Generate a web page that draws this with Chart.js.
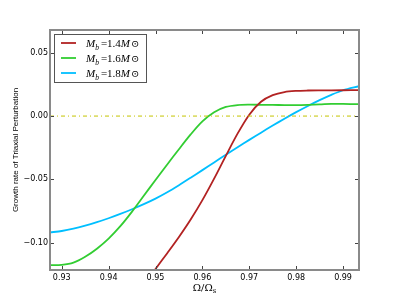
<!DOCTYPE html>
<html>
<head>
<meta charset="utf-8">
<script src="https://cdn.jsdelivr.net/npm/chart.js@4/dist/chart.umd.min.js"></script>
<style>
  html, body { margin: 0; padding: 0; background: #fff; }
  #wrap { width: 399px; height: 301px; }
</style>
</head>
<body>
<div id="wrap"><canvas id="chart" width="399" height="301"></canvas></div>
<script>
// bulge mass labels (in solar masses) and line colours
const mass_labels = ['1.4', '1.6', '1.8'];
const mass_colors = ['#b22222', '#32cd32', '#00bfff'];

// Omega / Omega_s  vs growth rate
const omega_14 = [0.9475, 0.9500, 0.9525, 0.9550, 0.9575, 0.9600, 0.9625, 0.9650, 0.9675, 0.9700, 0.9725, 0.9750, 0.9775, 0.9800, 0.9825, 0.9850, 0.9900, 0.9934];
const growth_14 = [-0.1333, -0.1208, -0.1083, -0.0955, -0.0817, -0.0664, -0.0494, -0.0314, -0.0139, 0.0011, 0.0113, 0.0165, 0.0190, 0.0199, 0.0202, 0.0203, 0.0204, 0.0205];

const omega_16 = [0.9275, 0.9300, 0.9325, 0.9350, 0.9375, 0.9400, 0.9425, 0.9450, 0.9475, 0.9500, 0.9525, 0.9550, 0.9575, 0.9600, 0.9625, 0.9650, 0.9675, 0.9700, 0.9725, 0.9750, 0.9775, 0.9800, 0.9825, 0.9850, 0.9875, 0.9900, 0.9934];
const growth_16 = [-0.1177, -0.1175, -0.1158, -0.1112, -0.1048, -0.0968, -0.0870, -0.0755, -0.0630, -0.0505, -0.0382, -0.0262, -0.0145, -0.0042, 0.0030, 0.0072, 0.0087, 0.0090, 0.0089, 0.0088, 0.0087, 0.0087, 0.0089, 0.0092, 0.0096, 0.0097, 0.0094];

const omega_18 = [0.9275, 0.9300, 0.9325, 0.9350, 0.9375, 0.9400, 0.9425, 0.9450, 0.9475, 0.9500, 0.9525, 0.9550, 0.9575, 0.9600, 0.9625, 0.9650, 0.9675, 0.9700, 0.9725, 0.9750, 0.9775, 0.9800, 0.9825, 0.9850, 0.9875, 0.9900, 0.9934];
const growth_18 = [-0.0919, -0.0908, -0.0890, -0.0866, -0.0838, -0.0807, -0.0773, -0.0736, -0.0696, -0.0652, -0.0602, -0.0546, -0.0487, -0.0427, -0.0366, -0.0305, -0.0246, -0.0188, -0.0131, -0.0075, -0.0021, 0.0031, 0.0080, 0.0126, 0.0168, 0.0204, 0.0236];

const x_ticks = [0.93, 0.94, 0.95, 0.96, 0.97, 0.98, 0.99];
const y_ticks = [-0.10, -0.05, 0.00, 0.05];
const x_range = [0.9275, 0.9934];
const y_range = [-0.1216, 0.068];

function pts(xs, ys) {
    return xs.map((x, i) => ({x: x, y: ys[i]}));
}
function fmt(v) {
    return (v < 0 ? '\u2212' : '') + Math.abs(v).toFixed(2);
}

const curves = [[omega_14, growth_14], [omega_16, growth_16], [omega_18, growth_18]];
const datasets = curves.map((c, i) => ({
    label: 'M_b =' + mass_labels[i] + 'M\u2299',
    data: pts(c[0], c[1]),
    borderColor: mass_colors[i],
    backgroundColor: mass_colors[i],
    borderWidth: 1.8,
    pointRadius: 0,
    tension: 0.3,
    fill: false
}));
// zero reference line
datasets.unshift({
    label: 'zero',
    data: [{x: x_range[0], y: 0}, {x: x_range[1], y: 0}],
    borderColor: '#c4c400',
    borderWidth: 1,
    borderDash: [4, 3, 1, 3],
    pointRadius: 0
});

// frame, inward ticks, legend and x label
const decor = {
    id: 'decor',
    afterDraw(chart) {
        const ctx = chart.ctx;
        const a = chart.chartArea;
        const xs = chart.scales.x, ys = chart.scales.y;
        ctx.save();
        ctx.strokeStyle = '#444';
        ctx.lineWidth = 1;
        ctx.beginPath();
        x_ticks.forEach(v => {
            const px = Math.round(xs.getPixelForValue(v)) + 0.5;
            ctx.moveTo(px, a.bottom); ctx.lineTo(px, a.bottom - 4);
            ctx.moveTo(px, a.top); ctx.lineTo(px, a.top + 4);
        });
        y_ticks.forEach(v => {
            const py = Math.round(ys.getPixelForValue(v)) + 0.5;
            ctx.moveTo(a.left, py); ctx.lineTo(a.left + 4, py);
            ctx.moveTo(a.right, py); ctx.lineTo(a.right - 4, py);
        });
        ctx.stroke();
        ctx.strokeStyle = '#8a8a8a';
        ctx.lineWidth = 2;
        ctx.strokeRect(a.left, a.top, a.right - a.left, a.bottom - a.top);

        // legend
        const lx = 54, ly = 34, lw = 92, lh = 48;
        ctx.fillStyle = '#fff';
        ctx.fillRect(lx, ly, lw, lh);
        ctx.strokeStyle = '#555';
        ctx.lineWidth = 1;
        ctx.strokeRect(lx + 0.5, ly + 0.5, lw, lh);
        mass_labels.forEach((m, i) => {
            const y = ly + 9 + i * 15;
            ctx.strokeStyle = mass_colors[i];
            ctx.lineWidth = 1.8;
            ctx.beginPath();
            ctx.moveTo(61, y); ctx.lineTo(76, y);
            ctx.stroke();
            ctx.fillStyle = '#000';
            ctx.textBaseline = 'alphabetic';
            ctx.textAlign = 'left';
            let x = 86;
            const base = y + 4;
            ctx.font = 'italic 11px "Liberation Serif"';
            ctx.fillText('M', x, base); x += ctx.measureText('M').width;
            ctx.font = 'italic 7.5px "Liberation Serif"';
            ctx.fillText('b', x, base + 2.5); x += ctx.measureText('b').width + 2;
            ctx.font = '11px "Liberation Serif"';
            ctx.fillText('=' + m, x, base); x += ctx.measureText('=' + m).width;
            ctx.font = 'italic 11px "Liberation Serif"';
            ctx.fillText('M', x, base); x += ctx.measureText('M').width + 1;
            ctx.font = '10px "DejaVu Serif"';
            ctx.fillText('\u2299', x, base);
        });

        // x axis label  Omega / Omega_s
        ctx.fillStyle = '#000';
        const main = '\u03A9/\u03A9';
        ctx.font = '10px "DejaVu Serif"';
        const w1 = ctx.measureText(main).width;
        ctx.font = '7px "DejaVu Serif"';
        const w2 = ctx.measureText('s').width;
        const cx = (a.left + a.right) / 2 - (w1 + w2) / 2;
        ctx.font = '10px "DejaVu Serif"';
        ctx.fillText(main, cx, 291);
        ctx.font = '7px "DejaVu Serif"';
        ctx.fillText('s', cx + w1, 293);
        ctx.restore();
    }
};

const chart_config = {
    type: 'line',
    data: { datasets: datasets },
    plugins: [decor],
    options: {
        responsive: false,
        animation: false,
        devicePixelRatio: 1,
        layout: { padding: { top: 30, right: 40, bottom: 0, left: 0 } },
        scales: {
            x: {
                type: 'linear',
                min: x_range[0],
                max: x_range[1],
                afterBuildTicks: s => { s.ticks = x_ticks.map(v => ({value: v})); },
                afterFit: s => { s.height = 31; },
                grid: { display: false, drawTicks: false },
                border: { display: false },
                ticks: {
                    padding: 3,
                    color: '#000',
                    font: { family: 'DejaVu Sans', size: 8 },
                    maxRotation: 0,
                    callback: v => fmt(v)
                }
            },
            y: {
                type: 'linear',
                min: y_range[0],
                max: y_range[1],
                afterBuildTicks: s => { s.ticks = y_ticks.map(v => ({value: v})); },
                afterFit: s => { s.width = 50; },
                grid: { display: false, drawTicks: false },
                border: { display: false },
                ticks: {
                    padding: 2,
                    color: '#000',
                    font: { family: 'DejaVu Sans', size: 8 },
                    callback: v => fmt(v)
                },
                title: {
                    display: true,
                    text: 'Growth rate of Triaxial Perturbation',
                    color: '#000',
                    font: { family: 'Liberation Sans', size: 8 },
                    padding: { top: 11, bottom: 0 }
                }
            }
        },
        plugins: {
            legend: { display: false },
            tooltip: { enabled: false }
        }
    }
};

var chart = new Chart(document.getElementById('chart'), chart_config);
</script>
</body>
</html>
